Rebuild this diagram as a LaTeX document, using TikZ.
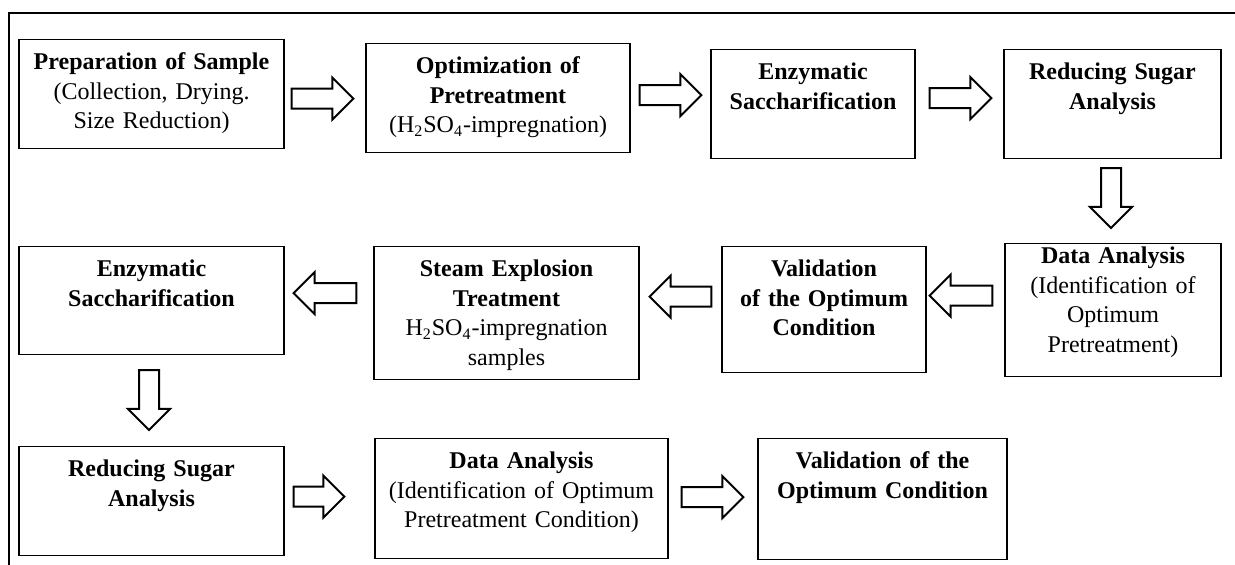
\documentclass[tikz,border=0pt]{standalone}
\usepackage{fontspec}
\setmainfont{Liberation Serif}
\usetikzlibrary{calc}
\tikzset{
  stage/.style={
    draw=black,
    line width=0.6pt,
    inner sep=0pt,
    anchor=north,
    align=center,
    text width=#1,
    text height=15pt,
    font=\fontsize{12}{14.8}\selectfont
  },
  fat arrow/.style={draw=black,fill=white,line width=1pt,line join=miter},
  frame line/.style={line width=0.9pt}
}
\newcommand{\fatarrow}[2]{%
  \coordinate (fa-s) at (#1);
  \coordinate (fa-e) at (#2);
  \coordinate (fa-b) at ($(fa-e)!10.5pt!(fa-s)$);
  \draw[fat arrow]
    ($(fa-s)!5pt!90:(fa-e)$) -- ($(fa-b)!5pt!90:(fa-e)$)
    -- ($(fa-b)!10.5pt!90:(fa-e)$) -- (fa-e)
    -- ($(fa-b)!10.5pt!-90:(fa-e)$) -- ($(fa-b)!5pt!-90:(fa-e)$)
    -- ($(fa-s)!5pt!-90:(fa-e)$) -- cycle;%
}

\begin{document}
\begin{tikzpicture}[x=0.5pt,y=-0.5pt]
  \useasboundingbox (0,0) rectangle (1235,565);
  \draw[frame line] (9,565) -- (9,13) -- (1240,13);

  % first row
  \node[stage=132.5pt,text depth=39.5pt] (prep) at (151.5,39)
    {\textbf{Preparation of Sample}\\(Collection, Drying.\\Size Reduction)};
  \node[stage=132pt,text depth=39.5pt] (optim) at (498,43)
    {\textbf{Optimization of}\\\textbf{Pretreatment}\\(H\textsubscript{2}SO\textsubscript{4}-impregnation)};
  \node[stage=102pt,text depth=39.5pt] (enzA) at (813,49)
    {\textbf{Enzymatic}\\\textbf{Saccharification}};
  \node[stage=108.5pt,text depth=39.5pt] (sugarA) at (1112.5,49)
    {\textbf{Reducing Sugar}\\\textbf{Analysis}};

  % second row
  \node[stage=108pt,text height=10pt,text depth=56.5pt] (dataA) at (1113,243)
    {\textbf{Data Analysis}\\(Identification of\\Optimum\\Pretreatment)};
  \node[stage=102pt,text depth=48pt] (validA) at (824,246)
    {\textbf{Validation}\\\textbf{of the Optimum}\\\textbf{Condition}};
  \node[stage=132.5pt,text depth=51.5pt] (steam) at (506.5,246)
    {\textbf{Steam Explosion}\\\textbf{Treatment}\\H\textsubscript{2}SO\textsubscript{4}-impregnation\\samples};
  \node[stage=132.5pt,text depth=39pt] (enzB) at (151.5,246)
    {\textbf{Enzymatic}\\\textbf{Saccharification}};

  % third row
  \node[stage=132.5pt,text depth=39.5pt] (sugarB) at (151.5,446)
    {\textbf{Reducing Sugar}\\\textbf{Analysis}};
  \node[stage=146.5pt,text depth=45pt] (dataB) at (521.5,438)
    {\textbf{Data Analysis}\\(Identification of Optimum\\Pretreatment Condition)};
  \node[stage=124.5pt,text depth=45.5pt] (validB) at (882.5,438)
    {\textbf{Validation of the}\\\textbf{Optimum Condition}};

  \fatarrow{[shift={(7,4.5)}]prep.east}{[shift={(-12,0.5)}]optim.west}
  \fatarrow{[shift={(9,-3)}]optim.east}{[shift={(-9,-9)}]enzA.west}
  \fatarrow{[shift={(14,-6)}]enzA.east}{[shift={(-12,-6)}]sugarA.west}
  \fatarrow{[shift={(-1.5,9)}]sugarA.south}{[shift={(-2,-15)}]dataA.north}
  \fatarrow{[shift={(-12,-14.5)}]dataA.west}{[shift={(3,-14)}]validA.east}
  \fatarrow{[shift={(-10,-13)}]validA.west}{[shift={(10,-16.5)}]steam.east}
  \fatarrow{[shift={(-17,-20)}]steam.west}{[shift={(9,-7.5)}]enzB.east}
  \fatarrow{[shift={(-2.5,15)}]enzB.south}{[shift={(-2.5,-16)}]sugarB.north}
  \fatarrow{[shift={(9,-4.5)}]sugarB.east}{[shift={(-30,-2)}]dataB.west}
  \fatarrow{[shift={(13,-1.5)}]dataB.east}{[shift={(-14,-2)}]validB.west}
\end{tikzpicture}
\end{document}
